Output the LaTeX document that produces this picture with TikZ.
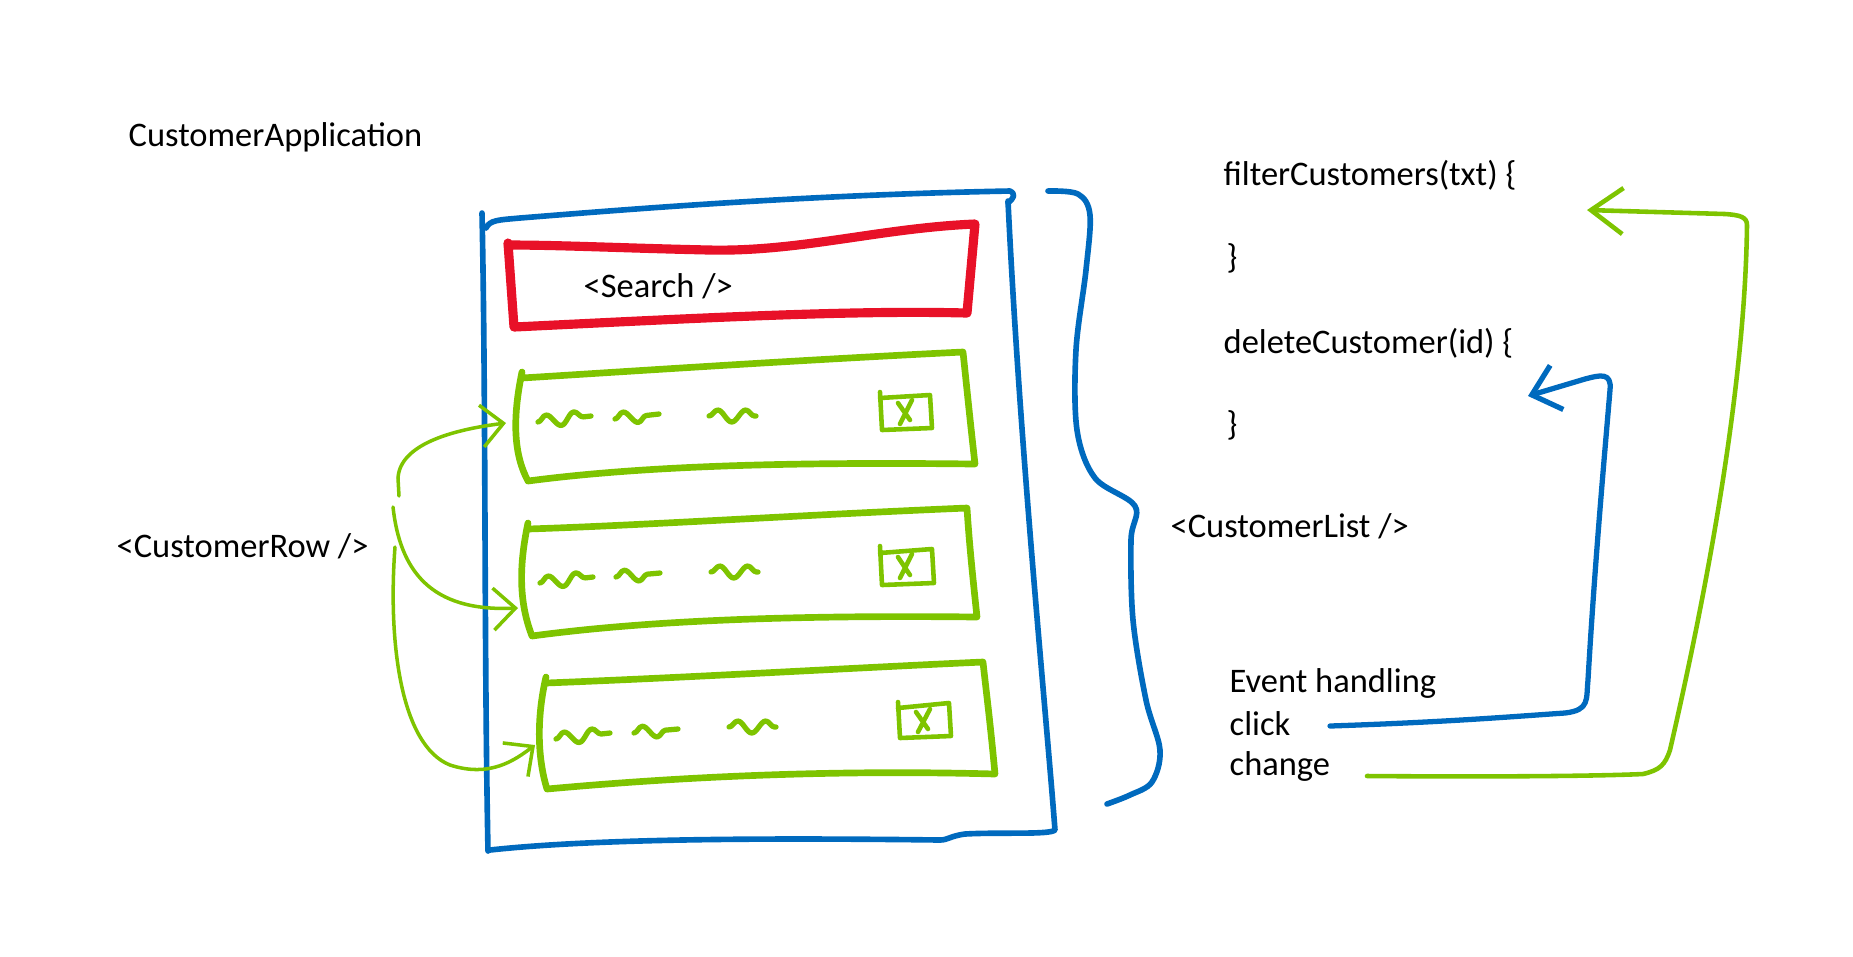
\documentclass[tikz,border=0pt]{standalone}
\usepackage{fontspec}
\setmainfont{Carlito}
\usetikzlibrary{arrows.meta,decorations.pathmorphing}
\definecolor{cblue}{RGB}{0,106,190}
\definecolor{cred}{RGB}{232,17,40}
\definecolor{cgreen}{RGB}{126,196,0}
\begin{document}
\begin{tikzpicture}[x=0.01cm,y=-0.01cm, line cap=round, line join=round,
  lbl/.style={anchor=west, font=\fontsize{9.8}{12}\selectfont, inner sep=0pt},
  bluepen/.style={draw=cblue, line width=1.6pt},
  redpen/.style={draw=cred, line width=2.6pt},
  greenpen/.style={draw=cgreen, line width=1.9pt},
  garrow/.style={draw=cgreen, line width=1pt, -{Straight Barb[length=2.2mm,width=4.2mm]}},
  barrow/.style={draw=cblue, line width=1.5pt, -{Straight Barb[length=2.6mm,width=4.6mm]}},
  garrowbig/.style={draw=cgreen, line width=1.3pt, -{Straight Barb[length=3.2mm,width=4.6mm]}},
  wig/.style={draw=cgreen, line width=1.5pt, decorate, decoration={snake, amplitude=0.6mm, segment length=2.8mm}},
  chk/.style={draw=cgreen, line width=1.3pt},
]
\useasboundingbox (0,0) rectangle (1853,956);

% texts
\node[lbl] (app) at (128,137) {CustomerApplication};
\node[lbl] (search) at (583,286) {<Search />};
\node[lbl] (row) at (116,546) {<CustomerRow />};
\node[lbl] (list) at (1170,526) {<CustomerList />};
\node[lbl] (filter) at (1223,175) {filterCustomers(txt) \{};
\node[lbl] (fclose) at (1226,258) {\}};
\node[lbl] (delete) at (1223,343) {deleteCustomer(id) \{};
\node[lbl] (dclose) at (1226,425) {\}};
\node[lbl] (event) at (1229,683) {Event handling};
\node[lbl] (click) at (1229,724) {click};
\node[lbl] (change) at (1229,766) {change};

% outer blue box
\draw[bluepen] (482,213) .. controls (486,400) and (484,650) .. (488,851);
\draw[bluepen] (486,228) .. controls (490,220) and (498,220) .. (520,218)
  .. controls (620,210) and (800,195) .. (1010,191) .. controls (1016,194) and (1014,198) .. (1008,203);
\draw[bluepen] (1008,201) .. controls (1020,450) and (1045,700) .. (1055,830)
  .. controls (1050,835) and (1000,832) .. (965,834) .. controls (950,836) and (948,840) .. (940,840)
  .. controls (780,838) and (600,838) .. (490,850);

% red search box
\draw[redpen] (508,243) -- (514,327) .. controls (700,318) and (850,310) .. (967,313)
  -- (975,224) .. controls (880,228) and (800,252) .. (709,250)
  .. controls (620,248) and (560,245) .. (508,245);

% green rows
\draw[greenpen] (522,372) .. controls (512,420) and (514,455) .. (528,481)
  .. controls (650,465) and (800,462) .. (975,464) .. controls (970,420) and (966,380) .. (963,352)
  .. controls (800,360) and (650,370) .. (522,378);
\draw[greenpen] (528,523) .. controls (518,570) and (520,605) .. (532,636)
  .. controls (650,620) and (800,615) .. (977,617) .. controls (972,570) and (969,540) .. (967,508)
  .. controls (800,515) and (650,525) .. (528,529);
\draw[greenpen] (546,677) .. controls (536,720) and (538,760) .. (547,789)
  .. controls (700,775) and (850,770) .. (995,774) .. controls (990,720) and (986,690) .. (983,662)
  .. controls (850,668) and (700,677) .. (546,683);

% wiggles
\draw[wig] (538,422) -- (591,416);
\draw[wig] (615,419) -- (659,414);
\draw[wig] (709,416) -- (756,416);
\draw[wig] (540,583) -- (593,577);
\draw[wig] (616,577) -- (660,573);
\draw[wig] (711,572) -- (758,572);
\draw[wig] (556,739) -- (610,733);
\draw[wig] (634,733) -- (678,729);
\draw[wig] (729,727) -- (776,727);

% check boxes
\draw[chk] (880,392) -- (882,430) -- (932,428) -- (930,395) -- (880,398);
\draw[chk] (898,403) -- (910,420) (912,400) -- (900,424);
\draw[chk] (880,546) -- (882,585) -- (934,583) -- (932,549) -- (880,553);
\draw[chk] (898,557) -- (910,575) (912,554) -- (900,578);
\draw[chk] (898,702) -- (900,738) -- (951,736) -- (949,703) -- (898,708);
\draw[chk] (916,712) -- (928,729) (930,709) -- (918,732);

% blue brace
\draw[bluepen] plot[smooth, tension=0.55] coordinates {(1048,191) (1078,194) (1090,215) (1086,270) (1076,350) (1077,430) (1095,478) (1135,506) (1131,540) (1133,620) (1146,700) (1160,750) (1152,782) (1130,795) (1107,804)};

% event arrows
\coordinate (bstart) at (1330,726);
\coordinate (bend) at (1528,396);
\draw[barrow] (bstart) .. controls (1450,722) and (1520,716) .. (1565,713)
  .. controls (1590,710) and (1586,700) .. (1588,680) .. controls (1595,560) and (1605,450) .. (1610,390)
  .. controls (1612,372) and (1600,375) .. (1585,379) -- (bend);
\coordinate (gstart) at (1367,776);
\coordinate (gend) at (1587,210);
\draw[garrowbig] (gstart) .. controls (1500,777) and (1600,776) .. (1643,774)
  .. controls (1660,770) and (1665,765) .. (1670,750) .. controls (1700,620) and (1745,400) .. (1747,225)
  .. controls (1747,217) and (1740,215) .. (1725,214) -- (gend);

% CustomerRow arrows
\coordinate (r1s) at (399,496);
\coordinate (r1e) at (506,423);
\coordinate (r2s) at (393,507);
\coordinate (r2e) at (518,608);
\coordinate (r3s) at (395,547);
\coordinate (r3e) at (535,745);
\draw[garrow] (r1s) -- (398,478) .. controls (400,445) and (450,430) .. (r1e);
\draw[garrow] (r2s) .. controls (400,570) and (430,612) .. (r2e);
\draw[garrow] (r3s) .. controls (388,640) and (400,745) .. (450,765) .. controls (490,778) and (515,760) .. (r3e);
\end{tikzpicture}
\end{document}
